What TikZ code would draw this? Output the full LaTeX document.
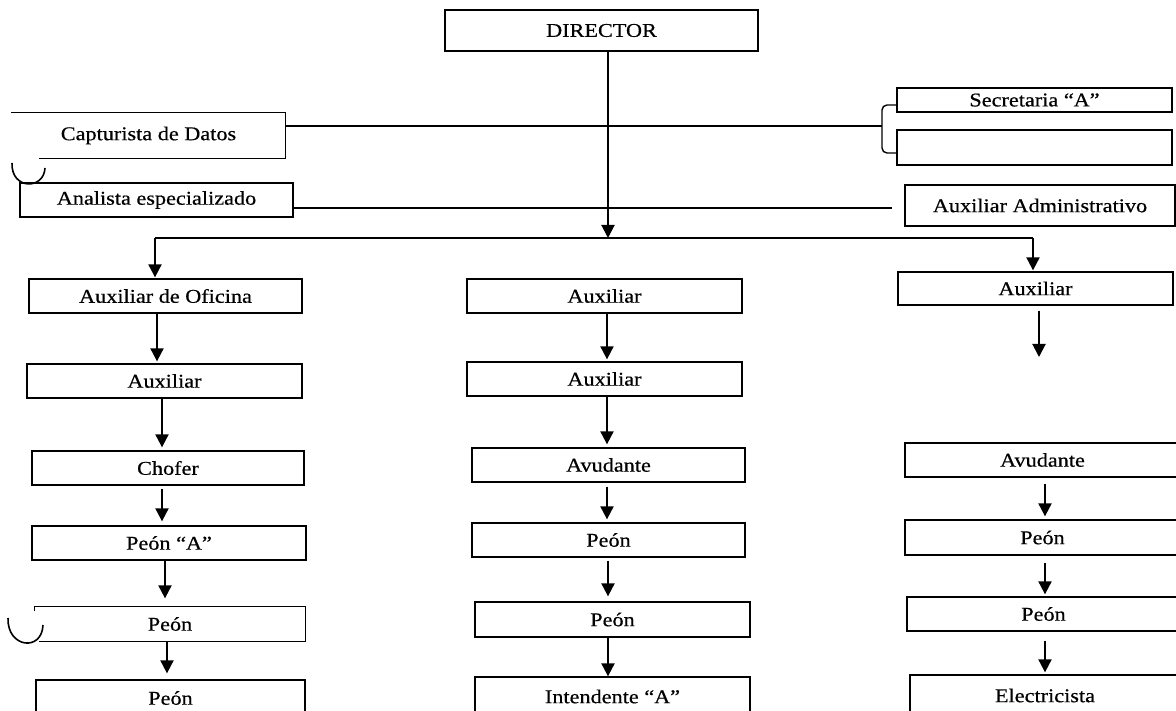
\documentclass[tikz,border=0pt]{standalone}
\usepackage{fontspec}
\setmainfont{Liberation Serif}[FakeStretch=1.14,FakeBold=0.5]
\usetikzlibrary{arrows.meta}
\begin{document}
\begin{tikzpicture}[x=1pt,y=-1pt,
  box/.style={draw,line width=1.3pt,inner sep=0pt,font=\fontsize{19.5}{21}\selectfont},
  openbox/.style={box,draw=none},
  link/.style={line width=2pt},
  arr/.style={line width=2pt,-{Triangle[width=13pt,length=13pt]}}]
\useasboundingbox (0,0) rectangle (1176,711);
\clip (0,0) rectangle (1176,711);
% top level
\node[box,minimum width=313pt,minimum height=41pt] (dir) at (601.5,30.5) {DIRECTOR};
\node[openbox,minimum width=273pt,minimum height=45pt] (cap) at (148.5,135.5) {Capturista de Datos};
\node[box,minimum width=273pt,minimum height=34pt] (ana) at (156.5,200) {Analista especializado};
\node[box,minimum width=275pt,minimum height=24pt] (sec) at (1034.5,100) {Secretaria “A”};
\node[box,minimum width=275pt,minimum height=35pt] (emp) at (1034.5,147.5) {};
\node[box,minimum width=270pt,minimum height=41pt] (adm) at (1040,205.5) {Auxiliar Administrativo};
% left column
\node[box,minimum width=273pt,minimum height=34pt] (L1) at (165.5,296) {Auxiliar de Oficina};
\node[box,minimum width=275pt,minimum height=34pt] (L2) at (164.5,381) {Auxiliar};
\node[box,minimum width=272pt,minimum height=34pt] (L3) at (168,468) {Chofer};
\node[box,minimum width=274pt,minimum height=34pt] (L4) at (169,543) {Peón “A”};
\node[openbox,minimum width=270pt,minimum height=34pt] (L5) at (170,624) {Peón};
\node[box,minimum width=269pt,minimum height=36pt] (L6) at (170.5,698) {Peón};
% middle column
\node[box,minimum width=275pt,minimum height=34pt] (M1) at (604.5,296) {Auxiliar};
\node[box,minimum width=275pt,minimum height=34pt] (M2) at (604.5,379) {Auxiliar};
\node[box,minimum width=273pt,minimum height=34pt] (M3) at (608.5,465) {Avudante};
\node[box,minimum width=273pt,minimum height=34pt] (M4) at (608.5,540) {Peón};
\node[box,minimum width=275pt,minimum height=35pt] (M5) at (612.5,619.5) {Peón};
\node[box,minimum width=275pt,minimum height=39pt] (M6) at (612.5,696.5) {Intendente “A”};
% right column
\node[box,minimum width=275pt,minimum height=33pt] (R1) at (1035.5,288.5) {Auxiliar};
\node[box,minimum width=275pt,minimum height=34pt] (R2) at (1042.5,460) {Avudante};
\node[box,minimum width=275pt,minimum height=35pt] (R3) at (1042.5,537.5) {Peón};
\node[box,minimum width=273pt,minimum height=34pt] (R4) at (1043.5,614) {Peón};
\node[box,minimum width=270pt,minimum height=41pt] (R5) at (1045,695.5) {Electricista};
% open borders
\draw[line width=1.3pt] (cap.north west) -- (cap.north east) -- (cap.south east) -- ([xshift=28pt]cap.south west);
\draw[line width=1.3pt] ([yshift=-5pt]L5.north west) -- (L5.north west) -- (L5.north east) -- (L5.south east) -- ([xshift=5pt]L5.south west);
% cups
\draw[line width=1.6pt] (12,163) .. controls (11,190) and (44,190) .. (45,168);
\draw[line width=1.6pt] (8,618) .. controls (7,648) and (42,652) .. (43,625);
% coordinates
\coordinate (br) at (882,126);
\coordinate (dist) at (608,238);
\coordinate (dl) at (155,238);
\coordinate (dr) at (1033,238);
\coordinate (anaend) at (892,208);
\coordinate (raux) at (1039,357);
% bracket
\draw[line width=1.4pt] (sec.west |- 0,105) -- (887,105) to[out=180,in=90] (882,110) -- (882,148) to[out=-90,in=180] (887,153) -- (emp.west |- 0,153);
\draw[link] (cap.east |- br) -- (br);
\draw[link] (ana.east |- anaend) -- (anaend);
% director and distribution
\draw[link] (dl) -- (dr);
\draw[arr] (dist |- dir.south) -- (dist);
\draw[arr] (dl) -- ([yshift=1pt]dl |- L1.north);
\draw[arr] (dr) -- ([yshift=1pt]dr |- R1.north);
% left chain
\draw[arr] (L1.south -| 157,0) -- ([yshift=2pt]L2.north -| 157,0);
\draw[arr] (L2.south -| 162,0) -- ([yshift=3pt]L3.north -| 162,0);
\draw[arr] ([yshift=-3pt]L3.south -| 162,0) -- ([yshift=4pt]L4.north -| 162,0);
\draw[arr] (L4.south -| 165,0) -- ([yshift=8pt]L5.north -| 165,0);
\draw[arr] (L5.south -| 167,0) -- ([yshift=6pt]L6.north -| 167,0);
% middle chain
\draw[arr] (M1.south -| 607,0) -- ([yshift=2pt]M2.north -| 607,0);
\draw[arr] (M2.south -| 607,0) -- ([yshift=3pt]M3.north -| 607,0);
\draw[arr] ([yshift=-4pt]M3.south -| 607,0) -- ([yshift=3pt]M4.north -| 607,0);
\draw[arr] ([yshift=-3pt]M4.south -| 608,0) -- ([yshift=5pt]M5.north -| 608,0);
\draw[arr] (M5.south -| 608,0) -- (M6.north -| 608,0);
% right chain
\draw[arr] ([yshift=-5pt]R1.south -| raux) -- (raux);
\draw[arr] ([yshift=-6pt]R2.south -| 1045,0) -- ([yshift=3pt]R3.north -| 1045,0);
\draw[arr] ([yshift=-7pt]R3.south -| 1045,0) -- ([yshift=2pt]R4.north -| 1045,0);
\draw[arr] ([yshift=-9pt]R4.south -| 1045,0) -- ([yshift=2pt]R5.north -| 1045,0);
\end{tikzpicture}
\end{document}
